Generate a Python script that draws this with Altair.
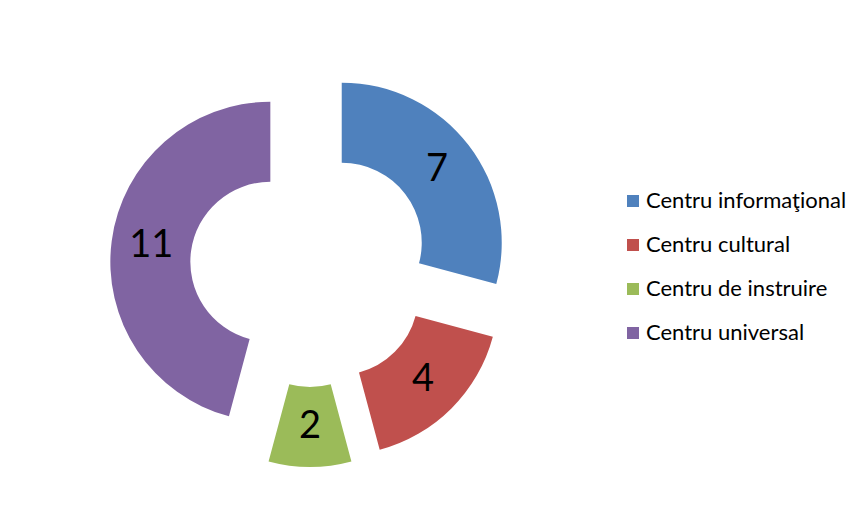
import altair as alt
import pandas as pd

categories = ["Centru informaţional", "Centru cultural", "Centru de instruire", "Centru universal"]
values = [7, 4, 2, 11]
orders = [0, 1, 2, 3]
colors = ["#4F81BD", "#C0504D", "#9BBB59", "#8064A2"]

df = pd.DataFrame({"category": categories, "value": values, "order": orders})

EXPLODE = 40

base = (
    alt.Chart(df)
    .transform_joinaggregate(total="sum(value)")
    .transform_window(cum="sum(value)", sort=[alt.SortField("order")], frame=[None, 0])
    .transform_calculate(
        mid="(datum.cum - datum.value / 2) / datum.total * 2 * PI",
    )
    .transform_calculate(
        dx=f"{EXPLODE} * sin(datum.mid)",
        dy=f"-{EXPLODE} * cos(datum.mid)",
    )
)

arcs = base.mark_arc(
    radius=160, radius2=80,
    xOffset=alt.expr("datum.dx"), yOffset=alt.expr("datum.dy"),
).encode(
    theta=alt.Theta("value:Q", stack=True),
    color=alt.Color(
        "category:N",
        scale=alt.Scale(domain=categories, range=colors),
        legend=alt.Legend(
            title=None, orient="none", legendX=614, legendY=167,
            symbolType="square", symbolSize=144, symbolStrokeWidth=0,
            labelFont="Lato", labelFontSize=22, labelColor="#000000",
            labelOffset=2, rowPadding=22, labelLimit=400,
        ),
    ),
    order=alt.Order("order:Q"),
)

labels = base.mark_text(
    radius=120, font="Lato", fontSize=38, color="#000000",
    xOffset=alt.expr("datum.dx"), yOffset=alt.expr("datum.dy"),
).encode(
    theta=alt.Theta("value:Q", stack=True),
    text=alt.Text("value:Q"),
    order=alt.Order("order:Q"),
)

chart = (
    alt.layer(arcs, labels)
    .properties(width=604, height=488, padding={"left": 0, "top": 15, "right": 0, "bottom": 0}, background="white")
    .configure_view(stroke=None)
)

chart.save("out.html", embed_options={"renderer": "svg", "actions": False})
